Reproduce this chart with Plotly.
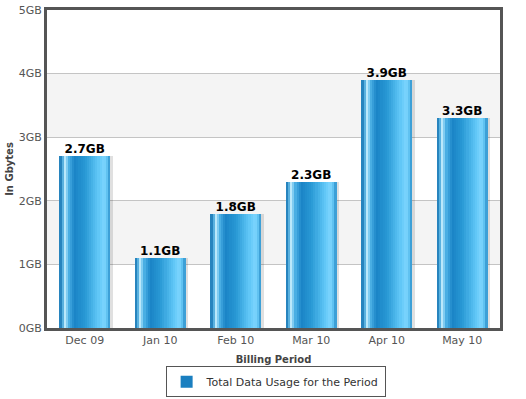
import plotly.graph_objects as go

categories = ["Dec 09", "Jan 10", "Feb 10", "Mar 10", "Apr 10", "May 10"]
usage_gb = [2.7, 1.1, 1.8, 2.3, 3.9, 3.3]
y_ticks = [0, 1, 2, 3, 4, 5]
y_tick_labels = ["0GB", "1GB", "2GB", "3GB", "4GB", "5GB"]
series_name = "Total Data Usage for the Period"

# horizontal gradient stops across each bar (fraction, colour)
stops = [(0.0, (24, 112, 172)), (0.05, (60, 160, 215)), (0.11, (200, 240, 255)),
         (0.17, (80, 180, 232)), (0.30, (26, 132, 198)), (0.50, (40, 152, 212)),
         (0.75, (92, 196, 245)), (0.88, (126, 214, 255)), (0.95, (90, 190, 238)),
         (1.0, (40, 138, 198))]

def colour_at(t):
    for (a, ca), (b, cb) in zip(stops[:-1], stops[1:]):
        if a <= t <= b:
            f = (t - a) / (b - a) if b > a else 0
            c = [round(ca[k] + (cb[k] - ca[k]) * f) for k in range(3)]
            return "rgb(%d,%d,%d)" % tuple(c)
    return "rgb(%d,%d,%d)" % stops[-1][1]

BAR_W = 0.67
N = 24
fig = go.Figure()

# shadow
fig.add_trace(go.Bar(x=categories, y=usage_gb, width=BAR_W, offset=-BAR_W / 2 + 0.035,
                     marker=dict(color="rgba(0,0,0,0.12)", line=dict(width=0)),
                     showlegend=False, hoverinfo="skip"))

sw = BAR_W / N
for i in range(N):
    t = (i + 0.5) / N
    fig.add_trace(go.Bar(x=categories, y=usage_gb, width=sw * 1.15,
                         offset=-BAR_W / 2 + i * sw,
                         marker=dict(color=colour_at(t), line=dict(width=0)),
                         showlegend=False, name=series_name))

# legend entry
fig.add_trace(go.Bar(x=[categories[0]], y=[None], name=series_name,
                     marker=dict(color="#1a7fc0", line=dict(width=0)), showlegend=True))

# value labels
fig.add_trace(go.Scatter(x=categories, y=usage_gb, mode="text",
                         text=["<b>%.1fGB</b>" % v for v in usage_gb], textposition="top center",
                         textfont=dict(family="DejaVu Sans", size=12, color="#000000"),
                         showlegend=False, hoverinfo="skip", cliponaxis=False))

# alternating bands
shapes = []
for k in range(len(y_ticks) - 1):
    if k % 2 == 1:
        shapes.append(dict(type="rect", xref="paper", yref="y", x0=0, x1=1,
                           y0=y_ticks[k], y1=y_ticks[k + 1], fillcolor="#f4f4f4",
                           line=dict(width=0), layer="below"))

fig.update_layout(
    width=526, height=399,
    margin=dict(l=47, r=26, t=10, b=71),
    paper_bgcolor="white", plot_bgcolor="white",
    barmode="overlay", bargap=0,
    shapes=shapes,
    font=dict(family="DejaVu Sans", size=11, color="#555555"),
    showlegend=True,
    legend=dict(orientation="h", x=0.524, xanchor="center", xref="container",
                y=0.043, yanchor="middle", yref="container",
                bordercolor="#555555", borderwidth=1, bgcolor="white",
                font=dict(size=11, color="#333333"), itemwidth=30),
    xaxis=dict(type="category", showline=True, linecolor="#555555", linewidth=3, mirror=True,
               showgrid=False, ticks="", automargin=False,
               tickfont=dict(size=11, color="#555555"),
               title=dict(text="<b>Billing Period</b>", font=dict(size=10, color="#444444"),
                          standoff=10)),
    yaxis=dict(range=[0, 5], tickvals=y_ticks, ticktext=y_tick_labels, showline=True,
               linecolor="#555555", linewidth=3, mirror=True, showgrid=True,
               gridcolor="#c4c4c4", gridwidth=1, zeroline=False, ticks="", automargin=False,
               tickfont=dict(size=11, color="#555555"),
               title=dict(text="<b>In Gbytes</b>", font=dict(size=10, color="#444444"),
                          standoff=4)),
)

fig.write_html("out.html")
